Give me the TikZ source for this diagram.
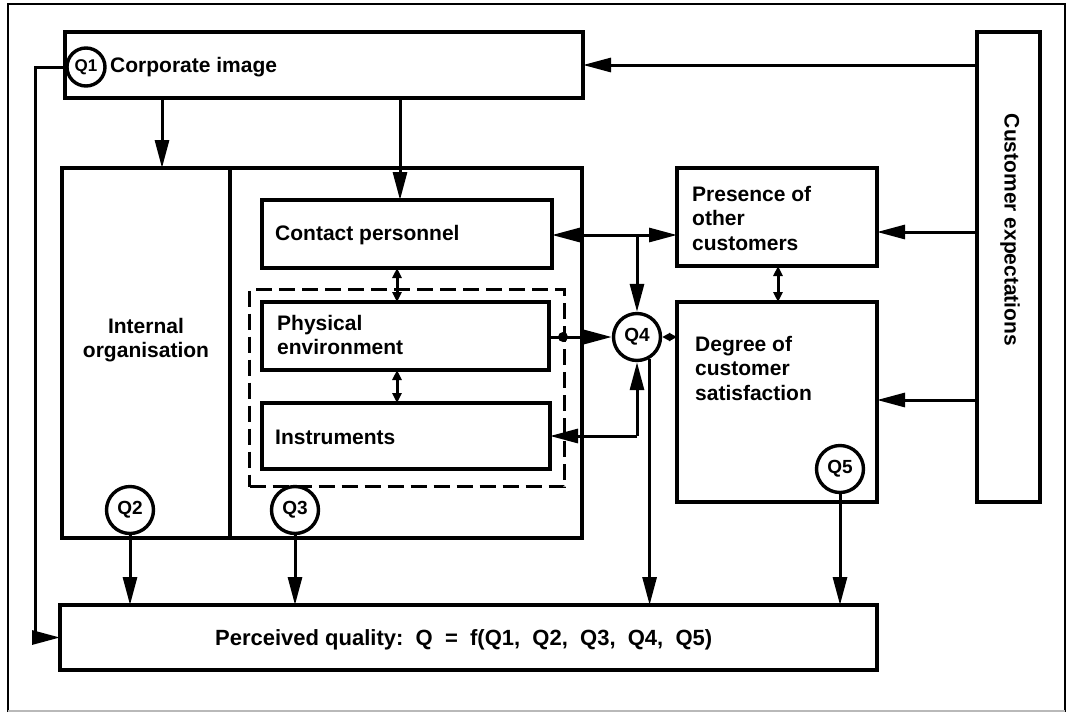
\documentclass[tikz,border=0pt]{standalone}
\usepackage{fontspec}
\setmainfont{Liberation Sans}
\usetikzlibrary{arrows.meta,calc}
\tikzset{
  box/.style={draw, line width=3.2pt, anchor=north west, inner sep=0pt, outer sep=0pt},
  dbox/.style={draw, line width=3pt, dash pattern=on 16pt off 7pt, anchor=north west, inner sep=0pt},
  qc/.style={circle, draw, line width=3.4pt, minimum size=47pt, inner sep=0pt, fill=white, font=\fontsize{19}{19}\selectfont\bfseries},
  txt/.style={font=\fontsize{21}{24.5}\selectfont\bfseries, inner sep=0pt},
  arr/.style={line width=3pt, -{Triangle[length=28pt,width=14pt]}},
  arrb/.style={line width=3pt, {Triangle[length=28pt,width=14pt]}-{Triangle[length=28pt,width=14pt]}},
  darr/.style={line width=3pt, {Triangle[length=10pt,width=9pt]}-{Triangle[length=10pt,width=9pt]}},
  sarr/.style={line width=3pt, {Triangle[length=8pt,width=8pt]}-{Triangle[length=8pt,width=8pt]}},
}
\begin{document}
\begin{tikzpicture}[x=1pt,y=-1pt]
\useasboundingbox (0,0) rectangle (1069,713);
% outer frame
\draw[line width=2pt] (8,712) -- (8,4) -- (1065,4) -- (1065,712);
\draw[line width=2pt, gray!55] (8,711) -- (1065,711);

% boxes
\node[box, minimum width=518pt, minimum height=66pt] (corp) at (65,32) {};
\node[box, minimum width=168pt, minimum height=370pt] (intorg) at (62,168) {};
\node[box, minimum width=352pt, minimum height=370pt] (serv) at (230,168) {};
\node[box, minimum width=290pt, minimum height=68pt] (contact) at (262,200) {};
\node[dbox, minimum width=315pt, minimum height=197pt] (dash) at (248,288) {};
\node[box, minimum width=287pt, minimum height=68pt] (phys) at (262,302) {};
\node[box, minimum width=288pt, minimum height=66pt] (instr) at (262,403) {};
\node[box, minimum width=200pt, minimum height=98pt] (pres) at (677,168) {};
\node[box, minimum width=200pt, minimum height=200pt] (degree) at (677,302) {};
\node[box, minimum width=63pt, minimum height=470pt] (custexp) at (977,32) {};
\node[box, minimum width=817pt, minimum height=65pt] (perc) at (60,605) {};

% circles
\node[qc, minimum size=38pt, font=\fontsize{17}{17}\selectfont\bfseries] (q1) at (86,67) {Q1};
\node[qc] (q2) at (130,510) {Q2};
\node[qc] (q3) at (295,510) {Q3};
\node[qc] (q4) at (637,337) {Q4};
\node[qc] (q5) at (840,469) {Q5};

% texts
\node[txt, anchor=west] (tcorp) at (110,67) {Corporate image};
\node[txt, align=center] (tint) at (146,340) {Internal\\organisation};
\node[txt, anchor=west] (tcont) at (275,235) {Contact personnel};
\node[txt, anchor=west, align=left] (tphys) at (277,335) {Physical\\environment};
\node[txt, anchor=west] (tinstr) at (275,437) {Instruments};
\node[txt, anchor=west, align=left] (tpres) at (692,218) {Presence of\\other\\customers};
\node[txt, anchor=west, align=left] (tdeg) at (695,368) {Degree of\\customer\\satisfaction};
\node[txt, rotate=-90] (tcust) at (1010,230) {Customer expectations};
\node[txt, font=\fontsize{22}{24}\selectfont\bfseries, anchor=west] (tperc) at (215,640) {Perceived quality:\ \ Q\ \ =\ \ f(Q1,\ \ Q2,\ \ Q3,\ \ Q4,\ \ Q5)};

% helper coordinates
\coordinate (a1) at (162,0);
\coordinate (a2) at (400,0);
\coordinate (a3) at (397,0);
\coordinate (a4) at (778,0);
\coordinate (j1) at (637,235);
\coordinate (j2) at (637,436);
\coordinate (c1) at (35,67);

% connectors
\draw[arr] (q1.west) -- (c1) |- (perc.west);
\draw[arr] (corp.south -| a1) -- (intorg.north -| a1);
\draw[arr] (corp.south -| a2) -- (contact.north -| a2);
\draw[darr] (contact.south -| a3) -- (phys.north -| a3);
\draw[darr] (phys.south -| a3) -- (instr.north -| a3);
\draw[arrb] (contact.east |- j1) -- (pres.west |- j1);
\draw[arr] (j1) -- (q4.north);
\draw[arr] (phys.east |- q4.west) -- (q4.west);
\fill (563,337) circle (5pt);
\draw[sarr] (q4.east) -- (degree.west |- q4.east);
\draw[arr] (j2) -- (instr.east |- j2);
\draw[arr] (j2) -- (q4.south);
\draw[arr] (q4.-60) -- (q4.-60 |- perc.north);
\draw[darr] (pres.south -| a4) -- (degree.north -| a4);
\draw[arr] (custexp.west |- corp.east) -- (corp.east);
\draw[arr] (custexp.west |- 0,232) -- (pres.east |- 0,232);
\draw[arr] (custexp.west |- 0,400) -- (degree.east |- 0,400);
\draw[arr] (q2.south) -- (q2.south |- perc.north);
\draw[arr] (q3.south) -- (q3.south |- perc.north);
\draw[arr] (q5.south) -- (q5.south |- perc.north);
\end{tikzpicture}
\end{document}
